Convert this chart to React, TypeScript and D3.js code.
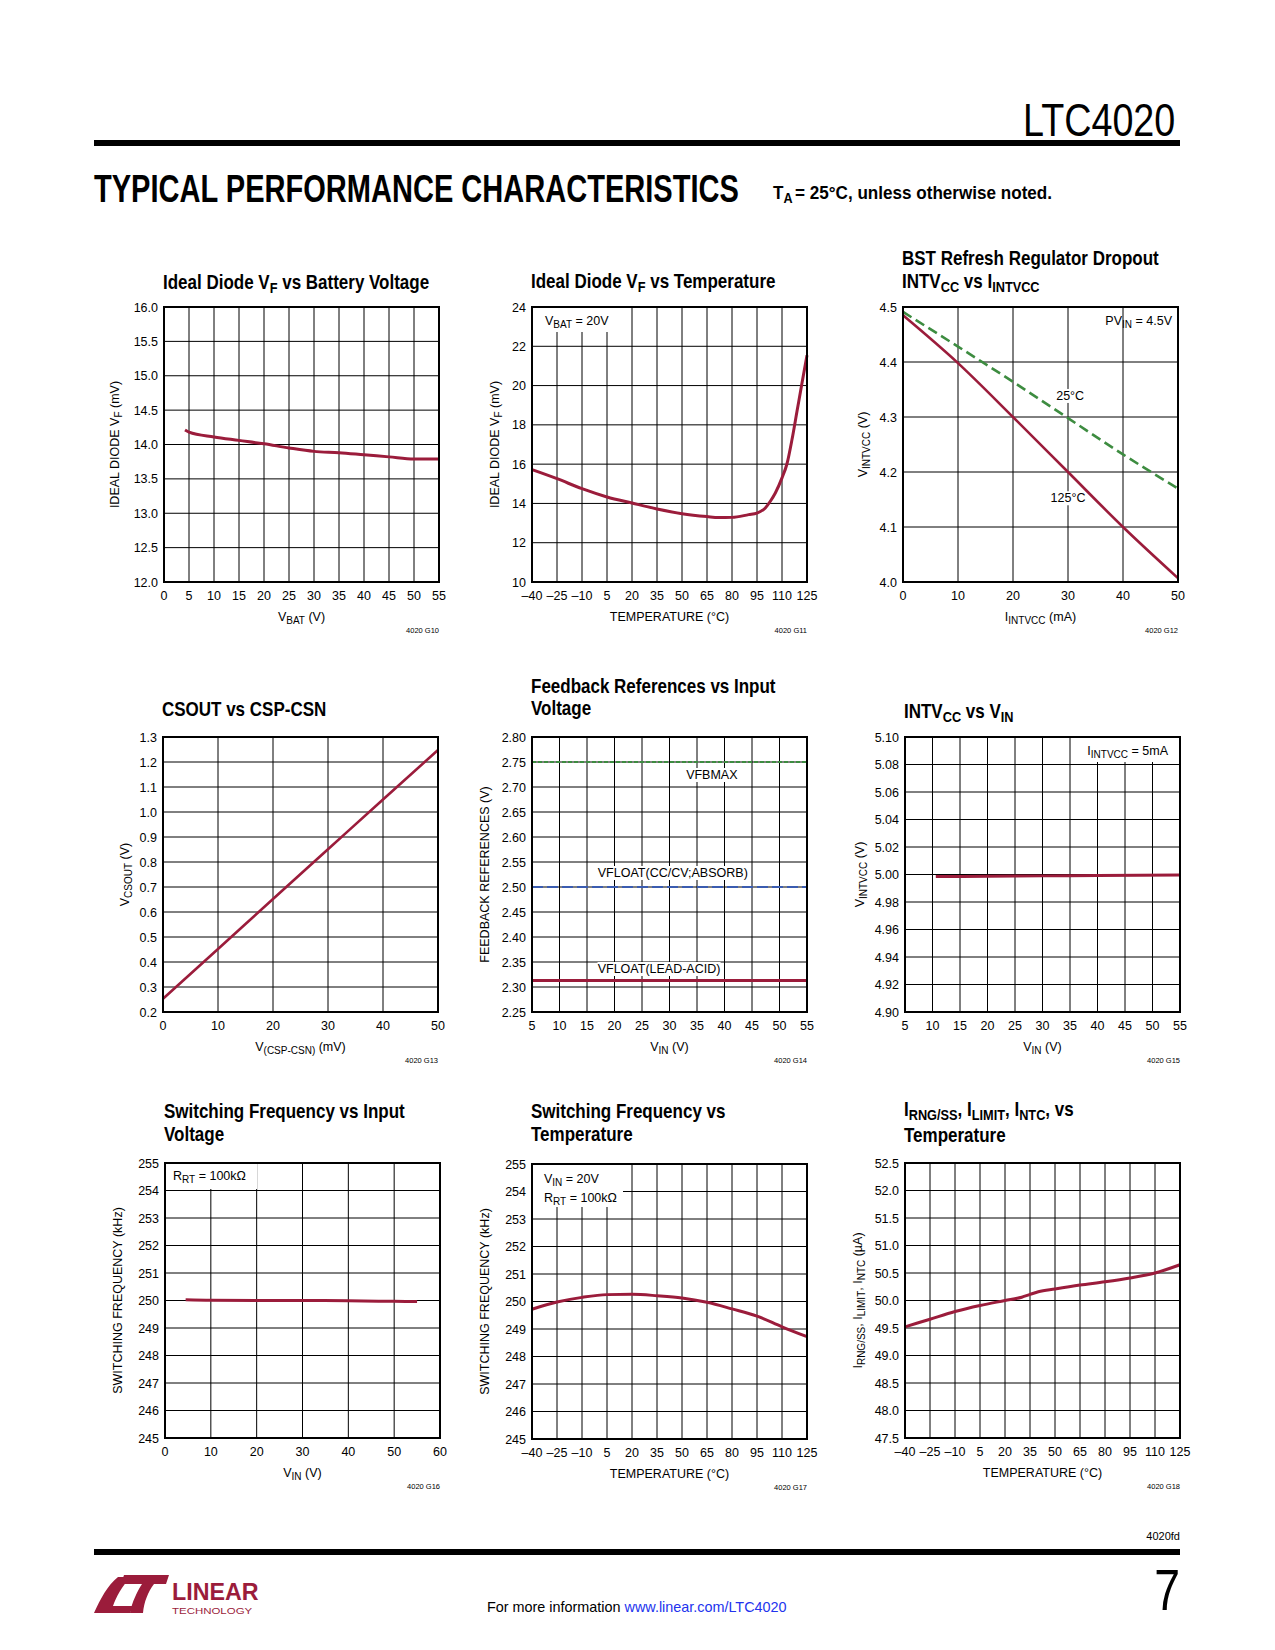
import React from 'react';
import * as d3 from 'd3';

const SANS = "'Liberation Sans', Arial, Helvetica, sans-serif";
const RED = '#9b1c3b';
const GREEN = '#3d8c40';
const BLUE = '#3a5cb0';

// ---------- G10: Ideal Diode VF vs Battery Voltage ----------
const g10Vbat = [4.2, 5, 10, 15, 20, 25, 30, 35, 40, 45, 50, 55];
const g10Vf = [14.21, 14.18, 14.11, 14.06, 14.01, 13.95, 13.9, 13.88, 13.85, 13.82, 13.79, 13.79];
const g10XTicks = [0, 5, 10, 15, 20, 25, 30, 35, 40, 45, 50, 55];
const g10YTicks = [12, 12.5, 13, 13.5, 14, 14.5, 15, 15.5, 16];

// ---------- G11: Ideal Diode VF vs Temperature ----------
const g11Temp = [-40, -25, -10, 5, 20, 35, 50, 65, 72, 80, 90, 95, 100, 103, 106, 110, 113, 116, 119, 122, 125];
const g11Vf = [15.72, 15.26, 14.75, 14.33, 14.02, 13.72, 13.48, 13.33, 13.28, 13.29, 13.43, 13.51, 13.77, 14.11, 14.53, 15.3, 16.02, 17.25, 18.69, 20.13, 21.54];
const tempTicks = [-40, -25, -10, 5, 20, 35, 50, 65, 80, 95, 110, 125];
const g11YTicks = [10, 12, 14, 16, 18, 20, 22, 24];

// ---------- G12: BST Refresh Regulator Dropout ----------
const g12I = [0, 10, 20, 30, 40, 50];
const g12V125 = [4.485, 4.398, 4.3, 4.2, 4.1, 4.007];
const g12V25 = [4.491, 4.428, 4.364, 4.298, 4.232, 4.17];
const g12XTicks = [0, 10, 20, 30, 40, 50];
const g12YTicks = [4.0, 4.1, 4.2, 4.3, 4.4, 4.5];

// ---------- G13: CSOUT vs CSP-CSN ----------
const g13V = [0, 10, 20, 30, 40, 50];
const g13Out = [0.253, 0.452, 0.652, 0.851, 1.05, 1.248];
const g13XTicks = [0, 10, 20, 30, 40, 50];
const g13YTicks = [0.2, 0.3, 0.4, 0.5, 0.6, 0.7, 0.8, 0.9, 1.0, 1.1, 1.2, 1.3];

// ---------- G14: Feedback References vs Input Voltage ----------
const g14Vin = [5, 55];
const g14Vfbmax = [2.75, 2.75];
const g14VfloatCC = [2.5, 2.5];
const g14VfloatLead = [2.313, 2.313];
const vinTicks = [5, 10, 15, 20, 25, 30, 35, 40, 45, 50, 55];
const g14YTicks = [2.25, 2.3, 2.35, 2.4, 2.45, 2.5, 2.55, 2.6, 2.65, 2.7, 2.75, 2.8];

// ---------- G15: INTVCC vs VIN ----------
const g15Vin = [10.6, 20, 30, 40, 55];
const g15V = [4.9985, 4.9987, 4.999, 4.9992, 4.9996];
const g15YTicks = [4.9, 4.92, 4.94, 4.96, 4.98, 5.0, 5.02, 5.04, 5.06, 5.08, 5.1];

// ---------- G16: Switching Frequency vs Input Voltage ----------
const g16Vin = [4.5, 10, 20, 30, 40, 50, 55];
const g16F = [250.03, 250.01, 250.0, 250.0, 249.99, 249.97, 249.96];
const g16XTicks = [0, 10, 20, 30, 40, 50, 60];
const freqTicks = [245, 246, 247, 248, 249, 250, 251, 252, 253, 254, 255];

// ---------- G17: Switching Frequency vs Temperature ----------
const g17T = [-40, -25, -10, 5, 20, 35, 50, 65, 80, 95, 110, 125];
const g17F = [249.72, 249.98, 250.15, 250.25, 250.26, 250.21, 250.13, 249.97, 249.73, 249.47, 249.08, 248.72];

// ---------- G18: IRNG/SS, ILIMIT, INTC vs Temperature ----------
const g18T = [-40, -25, -10, 5, 20, 30, 35, 40, 50, 65, 80, 95, 110, 125];
const g18I = [49.52, 49.66, 49.8, 49.91, 50.0, 50.06, 50.11, 50.16, 50.21, 50.28, 50.34, 50.41, 50.5, 50.65];
const g18YTicks = [47.5, 48, 48.5, 49, 49.5, 50, 50.5, 51, 51.5, 52, 52.5];

const fmtInt = (v: number) => (v < 0 ? '–' + Math.abs(v) : String(v));
const fmt1 = (v: number) => v.toFixed(1);
const fmt2 = (v: number) => v.toFixed(2);

function rich(s: string, subDy = 3, subSize = '0.8em') {
  const parts = s.split(/(_\{[^}]*\})/);
  const out: any[] = [];
  let shifted = false;
  parts.forEach((p, i) => {
    if (!p) return;
    if (p.startsWith('_{')) {
      out.push(
        <tspan key={i} dy={shifted ? 0 : subDy} fontSize={subSize}>
          {p.slice(2, -1)}
        </tspan>
      );
      shifted = true;
    } else {
      out.push(
        <tspan key={i} dy={shifted ? -subDy : 0}>
          {p}
        </tspan>
      );
      shifted = false;
    }
  });
  return out;
}

type Series = { x: number[]; y: number[]; color: string; width: number; dash?: string };
type Note = { text: string; x: number; y: number; anchor?: string; data?: boolean; box?: boolean };

interface ChartProps {
  left: number;
  top: number;
  xDomain: [number, number];
  yDomain: [number, number];
  xTicks: number[];
  yTicks: number[];
  xFmt: (v: number) => string;
  yFmt: (v: number) => string;
  title: string[];
  titleDy: number[];
  xLabel: string;
  yLabel: string;
  yLabelOff: number;
  code: string;
  series: Series[];
  notes?: Note[];
  boxes?: [number, number, number, number][];
}

const W = 275;
const H = 275;
const FS = 12.5;

function Chart(p: ChartProps) {
  const x = d3.scaleLinear().domain(p.xDomain).range([p.left, p.left + W]);
  const y = d3.scaleLinear().domain(p.yDomain).range([p.top + H, p.top]);
  const bottom = p.top + H;
  const line = d3
    .line<[number, number]>()
    .x((d) => x(d[0]))
    .y((d) => y(d[1]))
    .curve(d3.curveMonotoneX);
  return (
    <g fontFamily={SANS}>
      {p.title.map((t, i) => (
        <text
          key={'t' + i}
          transform={`translate(${p.left - 1},${p.top + p.titleDy[i]}) scale(0.85,1)`}
          fontSize={20}
          fontWeight="bold"
          fill="#000"
        >
          {rich(t, 3.5, '0.75em')}
        </text>
      ))}
      {/* grid */}
      {p.xTicks.map((v) => (
        <line key={'gx' + v} x1={x(v)} x2={x(v)} y1={p.top} y2={bottom} stroke="#000" strokeWidth={1} />
      ))}
      {p.yTicks.map((v) => (
        <line key={'gy' + v} x1={p.left} x2={p.left + W} y1={y(v)} y2={y(v)} stroke="#000" strokeWidth={1} />
      ))}
      {(p.boxes || []).map((b, i) => (
        <rect key={'b' + i} x={p.left + b[0]} y={p.top + b[1]} width={b[2] - b[0]} height={b[3] - b[1]} fill="#fff" />
      ))}
      {(p.notes || [])
        .filter((n) => n.box)
        .map((n, i) => {
          const px = n.data ? x(n.x) : p.left + n.x;
          const py = n.data ? y(n.y) : p.top + n.y;
          const plain = n.text.replace(/_\{([^}]*)\}/g, '$1');
          const wEst = plain.length * FS * 0.56;
          const x0 = n.anchor === 'middle' ? px - wEst / 2 : n.anchor === 'end' ? px - wEst : px;
          return <rect key={'nb' + i} x={x0 - 2} y={py - 11} width={wEst + 4} height={14} fill="#fff" />;
        })}
      {/* series */}
      {p.series.map((s, i) => (
        <path
          key={'s' + i}
          d={line(s.x.map((v, j) => [v, s.y[j]] as [number, number])) || ''}
          fill="none"
          stroke={s.color}
          strokeWidth={s.width}
          strokeDasharray={s.dash}
        />
      ))}
      {/* frame */}
      <rect x={p.left} y={p.top} width={W} height={H} fill="none" stroke="#000" strokeWidth={2} />
      {/* notes */}
      {(p.notes || []).map((n, i) => (
        <text
          key={'n' + i}
          x={n.data ? x(n.x) : p.left + n.x}
          y={n.data ? y(n.y) : p.top + n.y}
          fontSize={FS}
          textAnchor={n.anchor || 'start'}
          fill="#000"
        >
          {rich(n.text, 3)}
        </text>
      ))}
      {/* tick labels */}
      {p.xTicks.map((v) => (
        <text key={'tx' + v} x={x(v)} y={bottom + 18} fontSize={FS} textAnchor="middle" fill="#000">
          {p.xFmt(v)}
        </text>
      ))}
      {p.yTicks.map((v) => (
        <text key={'ty' + v} x={p.left - 6} y={y(v) + 4.5} fontSize={FS} textAnchor="end" fill="#000">
          {p.yFmt(v)}
        </text>
      ))}
      <text x={p.left + W / 2} y={bottom + 39} fontSize={FS} textAnchor="middle" fill="#000">
        {rich(p.xLabel, 3)}
      </text>
      <text
        transform={`translate(${p.left + p.yLabelOff + 4},${p.top + H / 2}) rotate(-90)`}
        fontSize={FS}
        textAnchor="middle"
        fill="#000"
      >
        {rich(p.yLabel, 3)}
      </text>
      <text x={p.left + W} y={bottom + 51} fontSize={7.5} textAnchor="end" fill="#000">
        {p.code}
      </text>
    </g>
  );
}

function Logo() {
  return (
    <g fill={RED}>
      <path d="M94,1613 C101,1598 107,1586 118,1577 L131,1577 C122,1586 116,1597 113,1606 L133,1606 L130,1613 Z" />
      <path d="M124,1575 L169,1575 L166,1584 L154,1584 C148,1592 144,1602 143,1613 L130,1613 C132,1602 137,1592 142,1584 L121,1584 Z" />
      <text transform="translate(172,1600) scale(0.97,1)" fontFamily={SANS} fontSize={24} fontWeight="bold">
        LINEAR
      </text>
      <text transform="translate(172,1614) scale(1.35,1)" fontFamily={SANS} fontSize={8.5}>
        TECHNOLOGY
      </text>
    </g>
  );
}

export default function App() {
  return (
    <div style={{ position: 'absolute', left: 0, top: 0, width: 1275, height: 1650, background: '#fff' }}>
      <svg width={1275} height={1650} viewBox="0 0 1275 1650" style={{ display: 'block' }}>
        <rect x={0} y={0} width={1275} height={1650} fill="#fff" />
        {/* header */}
        <text transform="translate(1023,136) scale(0.82,1)" fontFamily={SANS} fontSize={46} fill="#000">
          LTC4020
        </text>
        <rect x={94} y={140} width={1086} height={6} fill="#000" />
        <text transform="translate(94,202) scale(0.745,1)" fontFamily={SANS} fontSize={39} fontWeight="bold" fill="#000">
          TYPICAL PERFORMANCE CHARACTERISTICS
        </text>
        <g fontFamily={SANS} fontWeight="bold" fill="#000">
          <text transform="translate(773,199) scale(0.9,1)" fontSize={19}>T</text>
          <text transform="translate(783.5,203) scale(0.9,1)" fontSize={14}>A</text>
          <text transform="translate(795,199) scale(0.9,1)" fontSize={19}>= 25°C, unless otherwise noted.</text>
        </g>

        <Chart
          left={164}
          top={307}
          xDomain={[0, 55]}
          yDomain={[12, 16]}
          xTicks={g10XTicks}
          yTicks={g10YTicks}
          xFmt={fmtInt}
          yFmt={fmt1}
          title={['Ideal Diode V_{F} vs Battery Voltage']}
          titleDy={[-18]}
          xLabel="V_{BAT} (V)"
          yLabel="IDEAL DIODE V_{F} (mV)"
          yLabelOff={-49}
          code="4020 G10"
          series={[{ x: g10Vbat, y: g10Vf, color: RED, width: 3 }]}
        />
        <Chart
          left={532}
          top={307}
          xDomain={[-40, 125]}
          yDomain={[10, 24]}
          xTicks={tempTicks}
          yTicks={g11YTicks}
          xFmt={fmtInt}
          yFmt={fmtInt}
          title={['Ideal Diode V_{F} vs Temperature']}
          titleDy={[-19]}
          xLabel="TEMPERATURE (°C)"
          yLabel="IDEAL DIODE V_{F} (mV)"
          yLabelOff={-37}
          code="4020 G11"
          boxes={[[1, 1, 80, 25]]}
          notes={[{ text: 'V_{BAT} = 20V', x: 13, y: 18 }]}
          series={[{ x: g11Temp, y: g11Vf, color: RED, width: 3 }]}
        />
        <Chart
          left={903}
          top={307}
          xDomain={[0, 50]}
          yDomain={[4.0, 4.5]}
          xTicks={g12XTicks}
          yTicks={g12YTicks}
          xFmt={fmtInt}
          yFmt={fmt1}
          title={['BST Refresh Regulator Dropout', 'INTV_{CC} vs I_{INTVCC}']}
          titleDy={[-42, -19]}
          xLabel="I_{INTVCC} (mA)"
          yLabel="V_{INTVCC} (V)"
          yLabelOff={-40}
          code="4020 G12"
          notes={[
            { text: 'PV_{IN} = 4.5V', x: 269, y: 18, anchor: 'end' },
            { text: '25°C', x: 30.4, y: 4.331, anchor: 'middle', data: true, box: true },
            { text: '125°C', x: 30.0, y: 4.145, anchor: 'middle', data: true, box: true },
          ]}
          series={[
            { x: g12I, y: g12V25, color: GREEN, width: 2.6, dash: '10,5' },
            { x: g12I, y: g12V125, color: RED, width: 2.6 },
          ]}
        />
        <Chart
          left={163}
          top={737}
          xDomain={[0, 50]}
          yDomain={[0.2, 1.3]}
          xTicks={g13XTicks}
          yTicks={g13YTicks}
          xFmt={fmtInt}
          yFmt={fmt1}
          title={['CSOUT vs CSP-CSN']}
          titleDy={[-21]}
          xLabel="V_{(CSP-CSN)} (mV)"
          yLabel="V_{CSOUT} (V)"
          yLabelOff={-38}
          code="4020 G13"
          series={[{ x: g13V, y: g13Out, color: RED, width: 2.6 }]}
        />
        <Chart
          left={532}
          top={737}
          xDomain={[5, 55]}
          yDomain={[2.25, 2.8]}
          xTicks={vinTicks}
          yTicks={g14YTicks}
          xFmt={fmtInt}
          yFmt={fmt2}
          title={['Feedback References vs Input', 'Voltage']}
          titleDy={[-44, -22]}
          xLabel="V_{IN} (V)"
          yLabel="FEEDBACK REFERENCES (V)"
          yLabelOff={-47}
          code="4020 G14"
          notes={[
            { text: 'VFBMAX', x: 37.7, y: 2.716, anchor: 'middle', data: true, box: true },
            { text: 'VFLOAT(CC/CV;ABSORB)', x: 30.6, y: 2.52, anchor: 'middle', data: true, box: true },
            { text: 'VFLOAT(LEAD-ACID)', x: 28.1, y: 2.328, anchor: 'middle', data: true, box: true },
          ]}
          series={[
            { x: g14Vin, y: g14Vfbmax, color: GREEN, width: 2, dash: '4,2' },
            { x: g14Vin, y: g14VfloatCC, color: BLUE, width: 2.2, dash: '11,4' },
            { x: g14Vin, y: g14VfloatLead, color: RED, width: 3 },
          ]}
        />
        <Chart
          left={905}
          top={737}
          xDomain={[5, 55]}
          yDomain={[4.9, 5.1]}
          xTicks={vinTicks}
          yTicks={g15YTicks}
          xFmt={fmtInt}
          yFmt={fmt2}
          title={['INTV_{CC} vs V_{IN}']}
          titleDy={[-19]}
          xLabel="V_{IN} (V)"
          yLabel="V_{INTVCC} (V)"
          yLabelOff={-45}
          code="4020 G15"
          boxes={[[170, 1, 274, 25]]}
          notes={[{ text: 'I_{INTVCC} = 5mA', x: 263, y: 18, anchor: 'end' }]}
          series={[{ x: g15Vin, y: g15V, color: RED, width: 3 }]}
        />
        <Chart
          left={165}
          top={1163}
          xDomain={[0, 60]}
          yDomain={[245, 255]}
          xTicks={g16XTicks}
          yTicks={freqTicks}
          xFmt={fmtInt}
          yFmt={fmtInt}
          title={['Switching Frequency vs Input', 'Voltage']}
          titleDy={[-45, -22]}
          xLabel="V_{IN} (V)"
          yLabel="SWITCHING FREQUENCY (kHz)"
          yLabelOff={-47}
          code="4020 G16"
          boxes={[[1, 1, 92, 26]]}
          notes={[{ text: 'R_{RT} = 100kΩ', x: 8, y: 17 }]}
          series={[{ x: g16Vin, y: g16F, color: RED, width: 3 }]}
        />
        <Chart
          left={532}
          top={1164}
          xDomain={[-40, 125]}
          yDomain={[245, 255]}
          xTicks={tempTicks}
          yTicks={freqTicks}
          xFmt={fmtInt}
          yFmt={fmtInt}
          title={['Switching Frequency vs', 'Temperature']}
          titleDy={[-46, -23]}
          xLabel="TEMPERATURE (°C)"
          yLabel="SWITCHING FREQUENCY (kHz)"
          yLabelOff={-47}
          code="4020 G17"
          boxes={[[1, 1, 91, 43]]}
          notes={[
            { text: 'V_{IN} = 20V', x: 12, y: 19 },
            { text: 'R_{RT} = 100kΩ', x: 12, y: 38 },
          ]}
          series={[{ x: g17T, y: g17F, color: RED, width: 3 }]}
        />
        <Chart
          left={905}
          top={1163}
          xDomain={[-40, 125]}
          yDomain={[47.5, 52.5]}
          xTicks={tempTicks}
          yTicks={g18YTicks}
          xFmt={fmtInt}
          yFmt={fmt1}
          title={['I_{RNG/SS}, I_{LIMIT}, I_{NTC}, vs', 'Temperature']}
          titleDy={[-47, -21]}
          xLabel="TEMPERATURE (°C)"
          yLabel="I_{RNG/SS}, I_{LIMIT}, I_{NTC} (µA)"
          yLabelOff={-47}
          code="4020 G18"
          series={[{ x: g18T, y: g18I, color: RED, width: 3 }]}
        />

        {/* footer */}
        <text x={1180} y={1540} fontFamily={SANS} fontSize={11} textAnchor="end" fill="#000">
          4020fd
        </text>
        <rect x={94} y={1549} width={1086} height={6} fill="#000" />
        <Logo />
        <text transform="translate(487,1612) scale(0.96,1)" fontFamily={SANS} fontSize={15} fill="#000">
          For more information <tspan fill="#2233ee">www.linear.com/LTC4020</tspan>
        </text>
        <text x={1180} y={1610} fontFamily={SANS} fontSize={58} textAnchor="end" fill="#000" transform="translate(1180,0) scale(0.8,1) translate(-1180,0)">
          7
        </text>
      </svg>
    </div>
  );
}
